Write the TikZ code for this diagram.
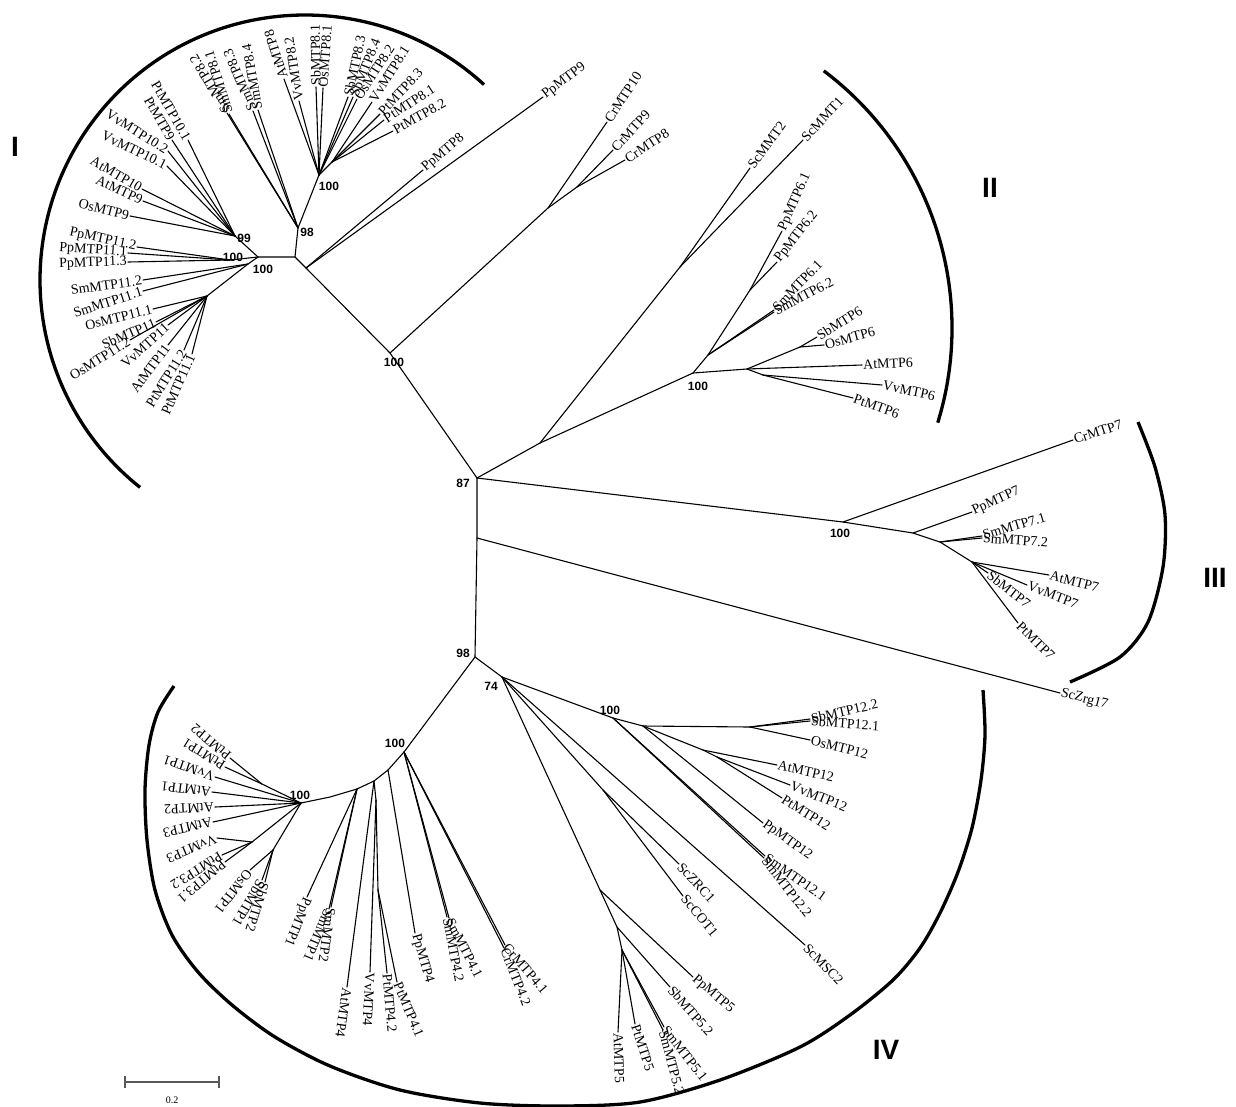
\documentclass[tikz,border=0pt]{standalone}
\usepackage{fontspec}
\setmainfont{Liberation Serif}
\newfontfamily\bsfam{Liberation Sans}
\newcommand\tleaf[6]{%
  \coordinate (#2) at (#3);
  \draw[br] (#1) -- (#2);
  \node[lab,rotate=#4,anchor=#5] (#2t) at (#2) {#6};}
\begin{document}
\begin{tikzpicture}[x=1pt,y=-1pt,
  br/.style={line width=1.1pt,line cap=round},
  lab/.style={font=\fontsize{14}{14}\selectfont,inner sep=1pt},
  bs/.style={font=\bsfam\bfseries\fontsize{12}{12}\selectfont,inner sep=0pt},
  rn/.style={font=\bsfam\bfseries\fontsize{28}{28}\selectfont,inner sep=0pt},
  arcl/.style={line width=3.3pt}]
\useasboundingbox[fill=white] (0,0) rectangle (1236,1106);

% ---------- internal nodes ----------
\coordinate (N87) at (477,478);
\coordinate (NZ) at (477,538);
\coordinate (N98) at (475,657);
\coordinate (N74) at (502,677);
\coordinate (NI) at (390,353);
\coordinate (P) at (306,268);
\coordinate (H) at (295,257);
\coordinate (R) at (258,257);
\coordinate (N99) at (235,236);
\coordinate (N11p) at (230,260);
\coordinate (N11s) at (248,264);
\coordinate (N11a) at (207,296);
\coordinate (N98i) at (298,228);
\coordinate (N8) at (319,175);
\coordinate (N8p) at (332,162);
\coordinate (NCr) at (548,208);
\coordinate (NCr2) at (577,187);
\coordinate (NII) at (540,443);
\coordinate (NSc) at (680,267);
\coordinate (N6) at (693,373);
\coordinate (NPS) at (708,355);
\coordinate (NPp6) at (750,290);
\coordinate (N6a) at (747,369);
\coordinate (N6b) at (800,347);
\coordinate (N6c) at (763,375);
\coordinate (NIII) at (843,522);
\coordinate (N3A) at (913,533);
\coordinate (N3B) at (940,542);
\coordinate (N3C) at (972,562);
\coordinate (N12) at (613,718);
\coordinate (N12a) at (643,726);
\coordinate (N12m) at (750,727);
\coordinate (N12e) at (703,750);
\coordinate (N12v) at (717,757);
\coordinate (NSc2) at (603,790);
\coordinate (M1) at (600,890);
\coordinate (M2) at (617,927);
\coordinate (M3) at (622,950);
\coordinate (C1) at (404,752);
\coordinate (C2) at (388,770);
\coordinate (C3) at (374,781);
\coordinate (C4) at (357,789);
\coordinate (C5) at (330,797);
\coordinate (C6) at (301,803);
\coordinate (NVP) at (376,800);
\coordinate (NPt4) at (378,890);
\coordinate (G1) at (262,784);
\coordinate (G2) at (252,842);
\coordinate (S1) at (273,850);

% ---------- backbone ----------
\draw[br] (NI) -- (N87) -- (NZ) -- (N98) -- (N74);
\draw[br] (R) -- (H) -- (P) -- (NI);
\draw[br] (H) -- (N98i) -- (N8);
\draw[br] (R) -- (N99);
\draw[br] (R) -- (N11p);
\draw[br] (R) -- (N11s) -- (N11a);
\draw[br] (N8) -- (N8p);
\draw[br] (NI) -- (NCr) -- (NCr2);
\draw[br] (N87) -- (NII) -- (NSc);
\draw[br] (NII) -- (N6) -- (NPS) -- (NPp6);
\draw[br] (N6) -- (N6a) -- (N6b);
\draw[br] (N6a) -- (N6c);
\draw[br] (N87) -- (NIII) -- (N3A) -- (N3B) -- (N3C);
\draw[br] (N74) -- (N12) -- (N12a) -- (N12m);
\draw[br] (N12a) -- (N12e) -- (N12v);
\draw[br] (N74) -- (NSc2);
\draw[br] (N74) -- (M1) -- (M2) -- (M3);
\draw[br] (N98) -- (C1) -- (C2) -- (C3) -- (C4) -- (C5) -- (C6);
\draw[br] (C3) -- (NVP) -- (NPt4);
\draw[br] (C6) -- (G1);
\draw[br] (C6) -- (G2);
\draw[br] (C6) -- (S1);

% ---------- clade I ----------
\tleaf{N8}{a1}{284,79}{108}{west}{AtMTP8}
\tleaf{N8}{a2}{299,101}{99}{west}{VvMTP8.2}
\tleaf{N8}{a3}{316,87}{91}{west}{SbMTP8.1}
\tleaf{N8}{a4}{323,88}{86}{west}{OsMTP8.1}
\tleaf{N8}{a5}{348,97}{78}{west}{SbMTP8.3}
\tleaf{N8}{a6}{353,97}{68}{west}{SbMTP8.4}
\tleaf{N8}{a7}{357,99}{57}{west}{OsMTP8.2}
\tleaf{N8p}{a8}{372,102}{58}{west}{VvMTP8.1}
\tleaf{N8p}{a9}{380,114}{47}{west}{PtMTP8.3}
\tleaf{N8p}{a10}{384,120}{33}{west}{PtMTP8.1}
\tleaf{N8p}{a11}{393,131}{29}{west}{PtMTP8.2}
\tleaf{N98i}{b1}{229,114}{108}{west}{SmMTP8.1}
\tleaf{N98i}{b2}{227,113}{121}{west}{SmMTP8.2}
\tleaf{N98i}{b3}{253,111}{113}{west}{SmMTP8.3}
\tleaf{N98i}{b4}{258,110}{100}{west}{SmMTP8.4}
\tleaf{NCr}{c1}{607,122}{57}{west}{CrMTP10}
\tleaf{NCr2}{c2}{613,150}{47}{west}{CrMTP9}
\tleaf{NCr2}{c3}{625,160}{33}{west}{CrMTP8}
\tleaf{P}{c4}{423,170}{40}{west}{PpMTP8}
\tleaf{P}{c5}{543,97}{37}{west}{PpMTP9}
\tleaf{N99}{d1}{188,140}{-60}{east}{PtMTP10.1}
\tleaf{N99}{d2}{172,140}{-60}{east}{PtMTP9}
\tleaf{N99}{d3}{168,151}{-32}{east}{VvMTP10.2}
\tleaf{N99}{d4}{167,166}{-26}{east}{VvMTP10.1}
\tleaf{N99}{d5}{142,189}{-30}{east}{AtMTP10}
\tleaf{N99}{d6}{143,201}{-25}{east}{AtMTP9}
\tleaf{N99}{d7}{130,216}{-14}{east}{OsMTP9}
\tleaf{N11p}{e1}{137,247}{-12}{east}{PpMTP11.2}
\tleaf{N11p}{e2}{128,253}{-4}{east}{PpMTP11.1}
\tleaf{N11p}{e3}{128,262}{2}{east}{PpMTP11.3}
\tleaf{N11s}{e4}{143,280}{8}{east}{SmMTP11.2}
\tleaf{N11s}{e5}{143,291}{18}{east}{SmMTP11.1}
\tleaf{N11a}{e6}{153,309}{14}{east}{OsMTP11.1}
\tleaf{N11a}{e7}{156,322}{23}{east}{SbMTP11}
\tleaf{N11a}{e8}{130,340}{32}{east}{OsMTP11.2}
\tleaf{N11a}{e9}{168,325}{42}{east}{VvMTP11}
\tleaf{N11a}{e10}{168,345}{53}{east}{AtMTP11}
\tleaf{N11a}{e11}{184,350}{58}{east}{PtMTP11.2}
\tleaf{N11a}{e12}{192,354}{66}{east}{PtMTP11.1}

% ---------- clade II ----------
\tleaf{NSc}{f1}{750,168}{54}{west}{ScMMT2}
\tleaf{NSc}{f2}{803,140}{47}{west}{ScMMT1}
\tleaf{NPp6}{f3}{782,231}{66}{west}{PpMTP6.1}
\tleaf{NPp6}{f4}{777,262}{52}{west}{PpMTP6.2}
\tleaf{NPS}{f5}{774,310}{46}{west}{SmMTP6.1}
\tleaf{NPS}{f6}{774,312}{28}{west}{SmMTP6.2}
\tleaf{N6b}{f7}{817,337}{32}{west}{SbMTP6}
\tleaf{N6b}{f8}{824,345}{15}{west}{OsMTP6}
\tleaf{N6a}{f9}{862,365}{3}{west}{AtMTP6}
\tleaf{N6c}{f10}{882,385}{-12}{west}{VvMTP6}
\tleaf{N6c}{f11}{853,398}{-20}{west}{PtMTP6}

% ---------- clade III ----------
\tleaf{NIII}{g1}{1073,440}{18}{west}{CrMTP7}
\tleaf{N3A}{g2}{972,512}{24}{west}{PpMTP7}
\tleaf{N3B}{g3}{982,536}{17}{west}{SmMTP7.1}
\tleaf{N3B}{g4}{982,538}{-4}{west}{SmMTP7.2}
\tleaf{N3C}{g5}{1049,575}{-14}{west}{AtMTP7}
\tleaf{N3C}{g6}{1027,585}{-21}{west}{VvMTP7}
\tleaf{N3C}{g7}{988,573}{-38}{west}{SbMTP7}
\tleaf{N3C}{g8}{1018,623}{-45}{west}{PtMTP7}
\tleaf{NZ}{g9}{1060,693}{-15}{west}{ScZrg17}

% ---------- clade IV ----------
\tleaf{N12m}{h1}{810,719}{13}{west}{SbMTP12.2}
\tleaf{N12m}{h2}{810,721}{-4}{west}{SbMTP12.1}
\tleaf{N12m}{h3}{810,740}{-14}{west}{OsMTP12}
\tleaf{N12e}{h4}{777,765}{-12}{west}{AtMTP12}
\tleaf{N12v}{h5}{790,785}{-22}{west}{VvMTP12}
\tleaf{N12v}{h6}{782,798}{-32}{west}{PtMTP12}
\tleaf{N12a}{h7}{763,823}{-36}{west}{PpMTP12}
\tleaf{N12}{h8}{765,856}{-35}{west}{SmMTP12.1}
\tleaf{N12}{h9}{764,858}{-52}{west}{SmMTP12.2}
\tleaf{NSc2}{h10}{679,864}{-47}{west}{ScZRC1}
\tleaf{NSc2}{h11}{683,896}{-50}{west}{ScCOT1}
\tleaf{N74}{h12}{805,945}{-46}{west}{ScMSC2}
\tleaf{M1}{h13}{693,977}{-41}{west}{PpMTP5}
\tleaf{M2}{h14}{670,987}{-49}{west}{SbMTP5.2}
\tleaf{M3}{h15}{664,1027}{-52}{west}{SmMTP5.1}
\tleaf{M3}{h16}{663,1030}{-75}{west}{SmMTP5.2}
\tleaf{M3}{h17}{635,1024}{-72}{west}{PtMTP5}
\tleaf{M3}{h18}{618,1032}{-88}{west}{AtMTP5}
\tleaf{C1}{i1}{505,945}{-49}{west}{CrMTP4.1}
\tleaf{C1}{i2}{504,948}{-68}{west}{CrMTP4.2}
\tleaf{C1}{i3}{449,918}{-63}{west}{SmMTP4.1}
\tleaf{C1}{i4}{447,917}{-79}{west}{SmMTP4.2}
\tleaf{C2}{i5}{415,933}{-74}{west}{PpMTP4}
\tleaf{NPt4}{i6}{397,982}{-67}{west}{PtMTP4.1}
\tleaf{NPt4}{i7}{387,973}{-85}{west}{PtMTP4.2}
\tleaf{NVP}{i8}{370,972}{-93}{west}{VvMTP4}
\tleaf{C3}{i9}{347,987}{-98}{west}{AtMTP4}
\tleaf{C4}{i10}{331,907}{-98}{west}{SmMTP2}
\tleaf{C4}{i11}{329,909}{-113}{west}{SmMTP1}
\tleaf{C4}{i12}{307,897}{-112}{west}{PpMTP1}
\tleaf{G1}{j1}{230,758}{140}{west}{PtMTP2}
\tleaf{G1}{j2}{225,767}{148}{west}{PtMTP1}
\tleaf{C6}{j3}{215,777}{161}{west}{VvMTP1}
\tleaf{C6}{j4}{212,792}{173}{west}{AtMTP1}
\tleaf{C6}{j5}{215,807}{183}{west}{AtMTP2}
\tleaf{C6}{j6}{213,822}{193}{west}{AtMTP3}
\tleaf{G2}{j7}{217,838}{203}{west}{VvMTP3}
\tleaf{G2}{j8}{222,855}{212}{west}{PtMTP3.2}
\tleaf{G2}{j9}{225,862}{220}{west}{PtMTP3.1}
\tleaf{S1}{j10}{250,870}{232}{west}{OsMTP1}
\tleaf{S1}{j11}{262,880}{240}{west}{SbMTP1}
\tleaf{S1}{j12}{265,882}{253}{west}{SbMTP2}

% ---------- bootstrap values ----------
\node[bs] (v1) at (329,186) {100};
\node[bs] (v2) at (307,232) {98};
\node[bs] (v3) at (244,238) {99};
\node[bs] (v4) at (233,257) {100};
\node[bs] (v5) at (263,269) {100};
\node[bs] (v6) at (394,362) {100};
\node[bs] (v7) at (698,386) {100};
\node[bs] (v8) at (463,483) {87};
\node[bs] (v9) at (840,533) {100};
\node[bs] (v10) at (463,653) {98};
\node[bs] (v11) at (491,686) {74};
\node[bs] (v12) at (610,710) {100};
\node[bs] (v13) at (395,743) {100};
\node[bs] (v14) at (300,795) {100};

% ---------- clade arcs ----------
\draw[arcl] (305,280) ++(-47.5:265) arc[start angle=-47.5, end angle=-231.5, radius=265];
\draw[arcl] (630,328) ++(-53:322) arc[start angle=-53, end angle=17.1, radius=322];
\draw[arcl] plot[smooth] coordinates {(1138,422) (1155,467) (1165,515) (1163,567) (1148,622) (1120,657) (1070,682)};
\draw[arcl] plot[smooth] coordinates {(174,686) (158,712) (149,745) (145,790) (147,840) (155,890) (172,935) (198,972) (232,1005) (275,1037) (330,1066) (400,1090) (480,1103) (560,1106) (640,1102) (720,1080) (800,1047) (850,1015) (893,980) (920,948) (940,913) (958,872) (972,828) (981,780) (985,735) (983,690)};

\node[rn] (cI) at (15,147) {I};
\node[rn] (cII) at (990,188) {II};
\node[rn] (cIII) at (1215,578) {III};
\node[rn] (cIV) at (886,1050) {IV};

% ---------- scale bar ----------
\coordinate (sb1) at (125,1082);
\coordinate (sb2) at (219,1082);
\draw[line width=1.2pt,black!65] (sb1) -- (sb2);
\draw[line width=1.2pt,black!65] ([yshift=-6pt]sb1) -- ([yshift=6pt]sb1);
\draw[line width=1.2pt,black!65] ([yshift=-6pt]sb2) -- ([yshift=6pt]sb2);
\node[font=\fontsize{10}{10}\selectfont,inner sep=0pt] (sbl) at (172,1100) {0.2};
\end{tikzpicture}
\end{document}
